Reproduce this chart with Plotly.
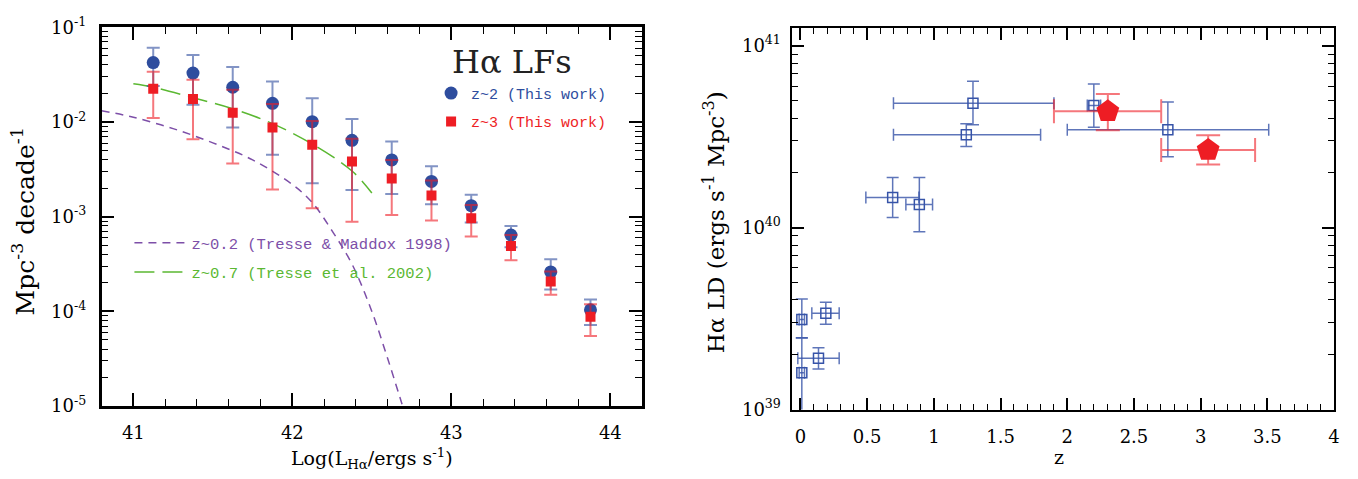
import numpy as np
import plotly.graph_objects as go

# ---------------- Left panel: H-alpha luminosity functions ----------------
log_L = [41.125, 41.375, 41.625, 41.875, 42.125, 42.375,
         42.625, 42.875, 43.125, 43.375, 43.625, 43.875]

# z~2 (this work): log10(phi), upper and lower error limits (log10)
z2_logphi    = [-1.373, -1.483, -1.633, -1.803, -1.997, -2.193, -2.400, -2.627, -2.883, -3.193, -3.583, -3.983]
z2_logphi_hi = [-1.217, -1.293, -1.420, -1.573, -1.750, -1.967, -2.207, -2.467, -2.767, -3.097, -3.450, -3.873]
z2_logphi_lo = [-1.620, -1.817, -2.057, -2.347, -2.647, -2.717, -2.760, -2.867, -3.060, -3.323, -3.767, -4.143]

# z~3 (this work)
z3_logphi    = [-1.650, -1.757, -1.903, -2.057, -2.240, -2.417, -2.597, -2.777, -3.017, -3.310, -3.683, -4.057]
z3_logphi_hi = [-1.470, -1.553, -1.660, -1.810, -1.990, -2.177, -2.400, -2.617, -2.877, -3.193, -3.577, -3.923]
z3_logphi_lo = [-1.957, -2.183, -2.437, -2.713, -2.910, -3.053, -2.983, -3.040, -3.210, -3.460, -3.823, -4.260]

# z~0.2 (Tresse & Maddox 1998) curve
tm98_logL   = [40.80, 41.00, 41.25, 41.50, 41.75, 42.00, 42.125, 42.25, 42.375, 42.50, 42.60, 42.69]
tm98_logphi = [-1.88, -1.95, -2.07, -2.22, -2.40, -2.66, -2.85, -3.15, -3.50, -4.00, -4.50, -4.98]

# z~0.7 (Tresse et al. 2002) curve
t02_logL   = [41.00, 41.125, 41.375, 41.625, 41.875, 42.125, 42.375, 42.50]
t02_logphi = [-1.597, -1.633, -1.743, -1.860, -2.017, -2.233, -2.517, -2.750]

lf_yticks = [1e-5, 1e-4, 1e-3, 1e-2, 1e-1]
lf_yticktext = ["10<sup>-5</sup>", "10<sup>-4</sup>", "10<sup>-3</sup>", "10<sup>-2</sup>", "10<sup>-1</sup>"]
lf_xticks = [41, 42, 43, 44]

# ---------------- Right panel: H-alpha luminosity density vs z ----------------
ld_z     = [0.01, 0.01, 0.135, 0.19, 0.691, 0.891, 1.243, 1.293, 2.199, 2.754]
ld_z_lo  = [-0.01, -0.01, -0.02, 0.085, 0.49, 0.79, 0.697, 0.697, 2.15, 2.00]
ld_z_hi  = [0.03, 0.03, 0.29, 0.29, 0.888, 0.99, 1.80, 1.90, 2.25, 3.51]
ld_log    = [39.495, 39.202, 39.282, 39.529, 40.165, 40.127, 40.510, 40.684, 40.671, 40.538]
ld_log_hi = [39.607, 39.393, 39.340, 39.589, 40.275, 40.275, 40.571, 40.805, 40.789, 40.690]
ld_log_lo = [39.395, 38.800, 39.223, 39.468, 40.055, 39.977, 40.446, 40.566, 40.552, 40.390]

tw_z     = [2.304, 3.056]
tw_z_lo  = [1.90, 2.704]
tw_z_hi  = [2.704, 3.408]
tw_log    = [40.639, 40.427]
tw_log_hi = [40.735, 40.507]
tw_log_lo = [40.535, 40.347]

ld_yticks = [1e39, 1e40, 1e41]
ld_yticktext = ["10<sup>39</sup>", "10<sup>40</sup>", "10<sup>41</sup>"]
ld_xticks = [0, 0.5, 1, 1.5, 2, 2.5, 3, 3.5, 4]
ld_xticktext = ["0", "0.5", "1", "1.5", "2", "2.5", "3", "3.5", "4"]

# ---------------- styling ----------------
SERIF = "DejaVu Serif"
MONO = "Liberation Mono"
BLUE = "#2e4d9e"
BLUE_ERR = "rgba(46,77,158,0.6)"
RED = "#ee1d24"
RED_ERR = "rgba(238,29,36,0.6)"
PURPLE = "#7d4fa8"
GREEN = "#5bb832"
BLUE2 = "#3653a8"

W, H = 1358, 479


def lin(v):
    return 10 ** np.asarray(v, dtype=float)


def errs(center, hi, lo):
    c, h, l = lin(center), lin(hi), lin(lo)
    return c, h - c, c - l


fig = go.Figure()

# curves
fig.add_trace(go.Scatter(
    x=tm98_logL, y=lin(tm98_logphi), mode="lines", line_shape="spline",
    line=dict(color=PURPLE, width=1.5, dash="8px,6px"),
    name='<span style="color:%s">z~0.2 (Tresse &amp; Maddox 1998)</span>' % PURPLE,
    legend="legend2", legendgroup="a", xaxis="x", yaxis="y"))
fig.add_trace(go.Scatter(
    x=t02_logL, y=lin(t02_logphi), mode="lines", line_shape="spline",
    line=dict(color=GREEN, width=1.5, dash="20px,8px"),
    name='<span style="color:%s">z~0.7 (Tresse et al. 2002)</span>' % GREEN,
    legend="legend2", legendgroup="b", xaxis="x", yaxis="y"))

c, p, m = errs(z2_logphi, z2_logphi_hi, z2_logphi_lo)
fig.add_trace(go.Scatter(
    x=log_L, y=c, mode="markers",
    marker=dict(symbol="circle", size=13, color=BLUE),
    error_y=dict(type="data", array=p, arrayminus=m, color=BLUE_ERR, thickness=2, width=6.5),
    name='<span style="color:%s">z~2 (This work)</span>' % BLUE,
    legend="legend", legendgroup="c", xaxis="x", yaxis="y"))

c, p, m = errs(z3_logphi, z3_logphi_hi, z3_logphi_lo)
fig.add_trace(go.Scatter(
    x=log_L, y=c, mode="markers",
    marker=dict(symbol="square", size=10, color=RED),
    error_y=dict(type="data", array=p, arrayminus=m, color=RED_ERR, thickness=2, width=6.5),
    name='<span style="color:%s">z~3 (This work)</span>' % RED,
    legend="legend", legendgroup="d", xaxis="x", yaxis="y"))

# right panel
c, p, m = errs(ld_log, ld_log_hi, ld_log_lo)
zx = np.asarray(ld_z)
fig.add_trace(go.Scatter(
    x=ld_z, y=c, mode="markers",
    marker=dict(symbol="square-open", size=10, color=BLUE2, line=dict(width=1.5, color=BLUE2)),
    error_y=dict(type="data", array=p, arrayminus=m, color="rgba(54,83,168,0.8)", thickness=1.5, width=6),
    error_x=dict(type="data", array=np.asarray(ld_z_hi) - zx, arrayminus=zx - np.asarray(ld_z_lo),
                 color="rgba(54,83,168,0.8)", thickness=1.5, width=6),
    showlegend=False, xaxis="x2", yaxis="y2"))

c, p, m = errs(tw_log, tw_log_hi, tw_log_lo)
tz = np.asarray(tw_z)
fig.add_trace(go.Scatter(
    x=tw_z, y=c, mode="markers",
    marker=dict(symbol="pentagon", size=24, color=RED),
    error_y=dict(type="data", array=p, arrayminus=m, color=RED_ERR, thickness=2, width=12),
    error_x=dict(type="data", array=np.asarray(tw_z_hi) - tz, arrayminus=tz - np.asarray(tw_z_lo),
                 color=RED_ERR, thickness=2, width=12),
    showlegend=False, xaxis="x2", yaxis="y2"))


def minor_log(d0, d1):
    return [k * 10.0 ** e for e in range(d0, d1) for k in range(2, 10)]


common = dict(showline=True, linecolor="black", mirror="allticks", ticks="inside",
              tickcolor="black", showgrid=False, zeroline=False,
              tickfont=dict(family=SERIF, size=18, color="black"))

fig.update_layout(
    width=W, height=H, margin=dict(l=0, r=0, t=0, b=0),
    paper_bgcolor="white", plot_bgcolor="white",
    xaxis=dict(domain=[102 / W, 645 / W], range=[40.8, 44.2], anchor="y",
               tickmode="array", tickvals=lf_xticks, ticklen=13, tickwidth=1.5, linewidth=2.5,
               ticklabelstandoff=8,
               minor=dict(ticks="inside", ticklen=7, tickwidth=1.2, tickcolor="black",
                          tick0=41, dtick=0.2, showgrid=False),
               **common),
    yaxis=dict(domain=[(H - 413) / H, (H - 15) / H], type="log", range=[-5, -1], anchor="x",
               tickmode="array", tickvals=lf_yticks, ticktext=lf_yticktext,
               ticklen=13, tickwidth=1.5, linewidth=2.5, ticklabelstandoff=9,
               minor=dict(ticks="inside", ticklen=7, tickwidth=1.2, tickcolor="black",
                          tickmode="array", tickvals=minor_log(-5, -1), showgrid=False),
               **common),
    xaxis2=dict(domain=[796 / W, 1340 / W], range=[-0.06, 4.0], anchor="y2",
                tickmode="array", tickvals=ld_xticks, ticktext=ld_xticktext,
                ticklen=12, tickwidth=1.5, linewidth=2, ticklabelstandoff=10,
                minor=dict(ticks="inside", ticklen=6, tickwidth=1.2, tickcolor="black",
                           tick0=0, dtick=0.1, showgrid=False),
                **common),
    yaxis2=dict(domain=[(H - 416.5) / H, (H - 16) / H], type="log", range=[39, 41.096], anchor="x2",
                tickmode="array", tickvals=ld_yticks, ticktext=ld_yticktext,
                ticklen=12, tickwidth=1.5, linewidth=2, ticklabelstandoff=6,
                minor=dict(ticks="inside", ticklen=6, tickwidth=1.2, tickcolor="black",
                           tickmode="array", tickvals=minor_log(39, 41), showgrid=False),
                **common),
    legend=dict(x=(453 - 20) / W, y=(H - 67) / H, xanchor="left", yanchor="top",
                bgcolor="rgba(0,0,0,0)", borderwidth=0, traceorder="grouped", tracegroupgap=6,
                font=dict(family=MONO, size=15)),
    legend2=dict(x=(135 - 5) / W, y=(H - 224) / H, xanchor="left", yanchor="top",
                 bgcolor="rgba(0,0,0,0)", borderwidth=0, traceorder="grouped", tracegroupgap=6,
                 itemwidth=52, font=dict(family=MONO, size=15.5)),
    showlegend=True,
)

annos = [
    dict(text="H\u03b1 LFs", x=514 / W, y=(H - 51) / H, font=dict(family=SERIF, size=32, color="#222")),
    dict(text="Mpc<sup>-3</sup> decade<sup>-1</sup>", x=24 / W, y=(H - 219) / H, textangle=-90,
         font=dict(family=SERIF, size=25, color="black")),
    dict(text="Log(L<sub>H\u03b1</sub>/ergs s<sup>-1</sup>)", x=374 / W, y=(H - 468) / H,
         font=dict(family=SERIF, size=19, color="black")),
    dict(text="H\u03b1 LD (ergs s<sup>-1</sup> Mpc<sup>-3</sup>)", x=718 / W, y=(H - 220) / H, textangle=-90,
         font=dict(family=SERIF, size=23, color="black")),
    dict(text="z", x=1064 / W, y=(H - 466) / H, font=dict(family=SERIF, size=19, color="black")),
]
for a in annos:
    a.update(xref="paper", yref="paper", showarrow=False, xanchor="center", yanchor="middle")
fig.update_layout(annotations=annos)

fig.write_html("out.html")
